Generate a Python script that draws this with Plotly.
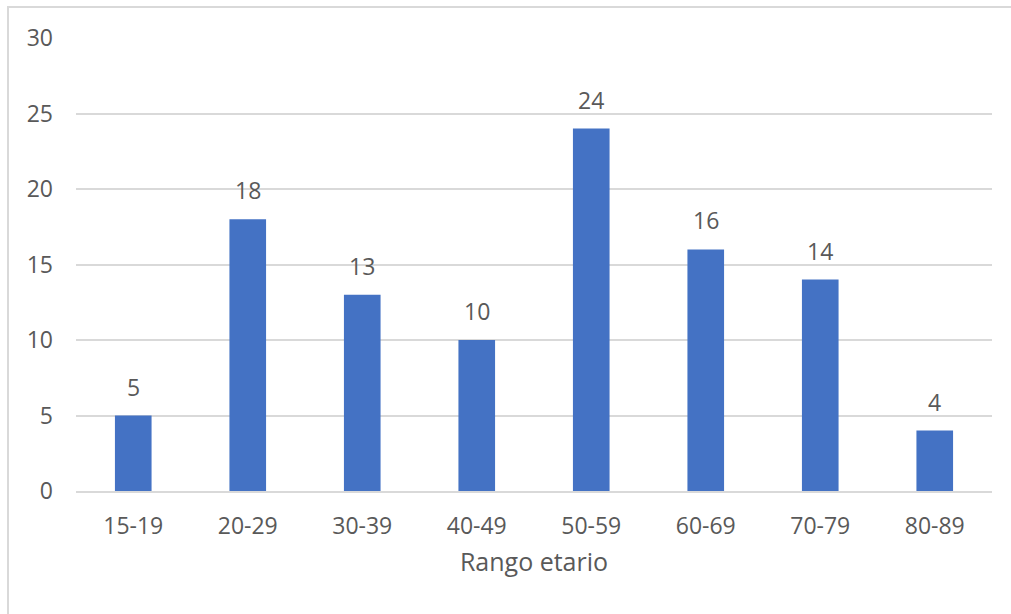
import plotly.graph_objects as go

# Age ranges and counts per range
categories = ["15-19", "20-29", "30-39", "40-49", "50-59", "60-69", "70-79", "80-89"]
counts = [5, 18, 13, 10, 24, 16, 14, 4]
y_ticks = [0, 5, 10, 15, 20, 25, 30]

W, H = 1011, 614
ML, MR, MT, MB = 76, 19, 38, 123
PW, PH = W - ML - MR, H - MT - MB

TEXT = "#595959"
GRID = "#D9D9D9"
BAR = "#4472C4"
FONT = "Open Sans"
TICK_SIZE = 23
TITLE_SIZE = 25

fig = go.Figure(
    go.Bar(
        x=categories,
        y=counts,
        marker=dict(color=BAR, line=dict(width=0)),
        hoverinfo="x+y",
    )
)

# Value labels above each bar
for c, v in zip(categories, counts):
    fig.add_annotation(
        x=c, y=v, text=str(v), showarrow=False,
        yanchor="bottom", yshift=11,
        font=dict(family=FONT, size=TICK_SIZE, color=TEXT),
    )

# Chart frame (left and top edges visible)
def px_to_paper_x(px):
    return (px - ML) / PW

def px_to_paper_y(py):
    return (H - MB - py) / PH

fig.add_shape(
    type="rect", xref="paper", yref="paper",
    x0=px_to_paper_x(8), x1=px_to_paper_x(1030),
    y0=px_to_paper_y(640), y1=px_to_paper_y(7),
    line=dict(color=GRID, width=2), fillcolor="rgba(0,0,0,0)",
    layer="below",
)

fig.update_layout(
    width=W, height=H,
    margin=dict(l=ML, r=MR, t=MT, b=MB),
    paper_bgcolor="white", plot_bgcolor="white",
    bargap=0.68,
    showlegend=False,
    font=dict(family=FONT, size=TICK_SIZE, color=TEXT),
    xaxis=dict(
        type="category",
        showgrid=False,
        showline=True, linecolor=GRID, linewidth=2,
        ticks="", ticklabelstandoff=13,
        tickfont=dict(family=FONT, size=TICK_SIZE, color=TEXT),
        title=dict(text="Rango etario", standoff=14,
                   font=dict(family=FONT, size=TITLE_SIZE, color=TEXT)),
    ),
    yaxis=dict(
        range=[0, 30],
        tickvals=y_ticks,
        showgrid=True, gridcolor=GRID, gridwidth=2,
        zeroline=False, showline=False,
        ticks="", ticklabelstandoff=22,
        tickfont=dict(family=FONT, size=TICK_SIZE, color=TEXT),
    ),
)

fig.write_html("out.html")
